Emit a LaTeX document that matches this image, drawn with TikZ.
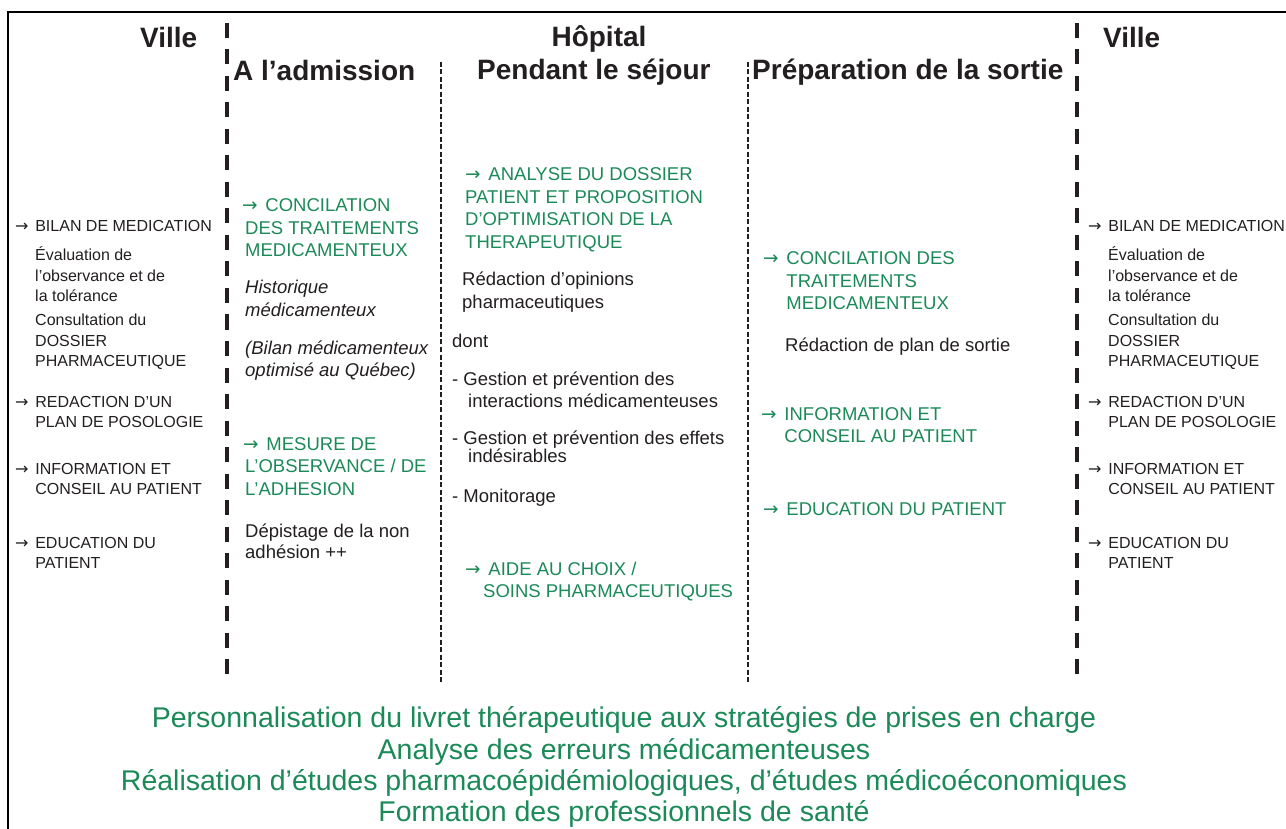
\documentclass[tikz,border=0pt]{standalone}
\usepackage{fontspec}
\setmainfont{Liberation Sans}
\newfontfamily\arrfont{DejaVu Sans}
\newcommand{\arr}{{\arrfont →}\hspace{0.42em}}
\newcommand{\tl}[1]{\begin{tabular}[t]{@{}l@{}}#1\end{tabular}}
\definecolor{grn}{RGB}{28,138,88}
\definecolor{txt}{RGB}{35,31,32}
\begin{document}
\begin{tikzpicture}[x=1pt,y=-1pt,
 vtext/.style={anchor=base west, inner sep=0pt, text=txt, font=\fontsize{16}{20.5}\selectfont},
 htext/.style={anchor=base west, inner sep=0pt, text=txt, font=\fontsize{18.5}{22.5}\selectfont},
 itext/.style={htext, font=\fontsize{18.5}{22.5}\selectfont\itshape},
 gtext/.style={htext, text=grn},
 head/.style={anchor=base west, inner sep=0pt, text=txt, font=\fontsize{28}{32}\selectfont\bfseries},
 bottomtext/.style={anchor=base, inner sep=0pt, text=grn, font=\fontsize{28.5}{31}\selectfont},
 thickdash/.style={line width=4pt, dash pattern=on 15pt off 11.5pt, draw=txt},
 thindash/.style={line width=1.4pt, dash pattern=on 5pt off 2.5pt, draw=txt},
 frame/.style={line width=2pt, draw=black},
]
\useasboundingbox (0,0) rectangle (1286,829);
\fill[white] (0,0) rectangle (1286,829);
% frame
\coordinate (fbl) at (8,835);
\coordinate (ftl) at (8,12);
\coordinate (ftr) at (1292,12);
\draw[frame] (fbl) -- (ftl) -- (ftr);
% separators
\coordinate (d1t) at (227,23);   \coordinate (d1b) at (227,684);
\coordinate (d2t) at (441,62);   \coordinate (d2b) at (441,683);
\coordinate (d3t) at (748,62);   \coordinate (d3b) at (748,683);
\coordinate (d4t) at (1077,23);  \coordinate (d4b) at (1077,684);
\draw[thickdash] (d1t) -- (d1b);
\draw[thindash] (d2t) -- (d2b);
\draw[thindash] (d3t) -- (d3b);
\draw[thickdash] (d4t) -- (d4b);
% headings
\node[head] (hv1) at (140,48) {Ville};
\node[head] (hadm) at (233,81) {A l’admission};
\node[head, anchor=base] (hhop) at (599,47) {Hôpital};
\node[head] (hsej) at (477,80) {Pendant le séjour};
\node[head] (hsor) at (752,80) {Préparation de la sortie};
\node[head] (hv2) at (1103,48) {Ville};
% left Ville
\node[vtext] (lv1) at (15,232) {\arr BILAN DE MEDICATION};
\node[vtext] (lv2) at (35,261) {\tl{Évaluation de\\l’observance et de\\la tolérance}};
\node[vtext] (lv3) at (35,326) {\tl{Consultation du\\DOSSIER\\PHARMACEUTIQUE}};
\node[vtext] (lv4) at (15,407) {\tl{\arr REDACTION D’UN\\\hphantom{\arr}PLAN DE POSOLOGIE}};
\node[vtext] (lv5) at (15,474) {\tl{\arr INFORMATION ET\\\hphantom{\arr}CONSEIL AU PATIENT}};
\node[vtext] (lv6) at (15,548) {\tl{\arr EDUCATION DU\\\hphantom{\arr}PATIENT}};
% admission
\node[gtext] (a1) at (242,212) {\tl{\arr CONCILATION\\\hspace{3pt}DES TRAITEMENTS\\\hspace{3pt}MEDICAMENTEUX}};
\node[itext] (a2) at (245,294) {\tl{Historique\\médicamenteux}};
\node[itext] (a3) at (245,354) {\tl{(Bilan médicamenteux\\optimisé au Québec)}};
\node[gtext] (a4) at (243,450) {\tl{\arr MESURE DE\\\hspace{2pt}L’OBSERVANCE / DE\\\hspace{2pt}L’ADHESION}};
\node[htext] (a5) at (245,537) {\tl{Dépistage de la non\\[-1.5pt]adhésion ++}};
% sejour
\node[gtext] (s1) at (465,181) {\tl{\arr ANALYSE DU DOSSIER\\PATIENT ET PROPOSITION\\D’OPTIMISATION DE LA\\THERAPEUTIQUE}};
\node[htext] (s2) at (462,286) {\tl{Rédaction d’opinions\\pharmaceutiques}};
\node[htext] (s3) at (452,348) {dont};
\node[htext] (s4) at (452,385) {\tl{- Gestion et prévention des\\\hspace{16pt}interactions médicamenteuses}};
\node[htext] (s5) at (452,444) {\tl{- Gestion et prévention des effets\\[-4pt]\hspace{16pt}indésirables}};
\node[htext] (s6) at (452,502) {- Monitorage};
\node[gtext] (s7) at (465,575) {\tl{\arr AIDE AU CHOIX /\\\hspace{18pt}SOINS PHARMACEUTIQUES}};
% sortie
\node[gtext] (p1) at (763,265) {\tl{\arr CONCILATION DES\\\hphantom{\arr}TRAITEMENTS\\\hphantom{\arr}MEDICAMENTEUX}};
\node[htext] (p2) at (785,351) {Rédaction de plan de sortie};
\node[gtext] (p3) at (761,420) {\tl{\arr INFORMATION ET\\\hphantom{\arr}CONSEIL AU PATIENT}};
\node[gtext] (p4) at (763,515) {\arr EDUCATION DU PATIENT};
% right Ville
\node[vtext] (rv1) at (1088,232) {\arr BILAN DE MEDICATION};
\node[vtext] (rv2) at (1108,261) {\tl{Évaluation de\\l’observance et de\\la tolérance}};
\node[vtext] (rv3) at (1108,326) {\tl{Consultation du\\DOSSIER\\PHARMACEUTIQUE}};
\node[vtext] (rv4) at (1088,407) {\tl{\arr REDACTION D’UN\\\hphantom{\arr}PLAN DE POSOLOGIE}};
\node[vtext] (rv5) at (1088,474) {\tl{\arr INFORMATION ET\\\hphantom{\arr}CONSEIL AU PATIENT}};
\node[vtext] (rv6) at (1088,548) {\tl{\arr EDUCATION DU\\\hphantom{\arr}PATIENT}};
% bottom
\node[bottomtext] (b1) at (624,727) {Personnalisation du livret thérapeutique aux stratégies de prises en charge};
\node[bottomtext] (b2) at (624,759) {Analyse des erreurs médicamenteuses};
\node[bottomtext] (b3) at (624,790) {Réalisation d’études pharmacoépidémiologiques, d’études médicoéconomiques};
\node[bottomtext] (b4) at (624,821) {Formation des professionnels de santé};
\end{tikzpicture}
\end{document}
